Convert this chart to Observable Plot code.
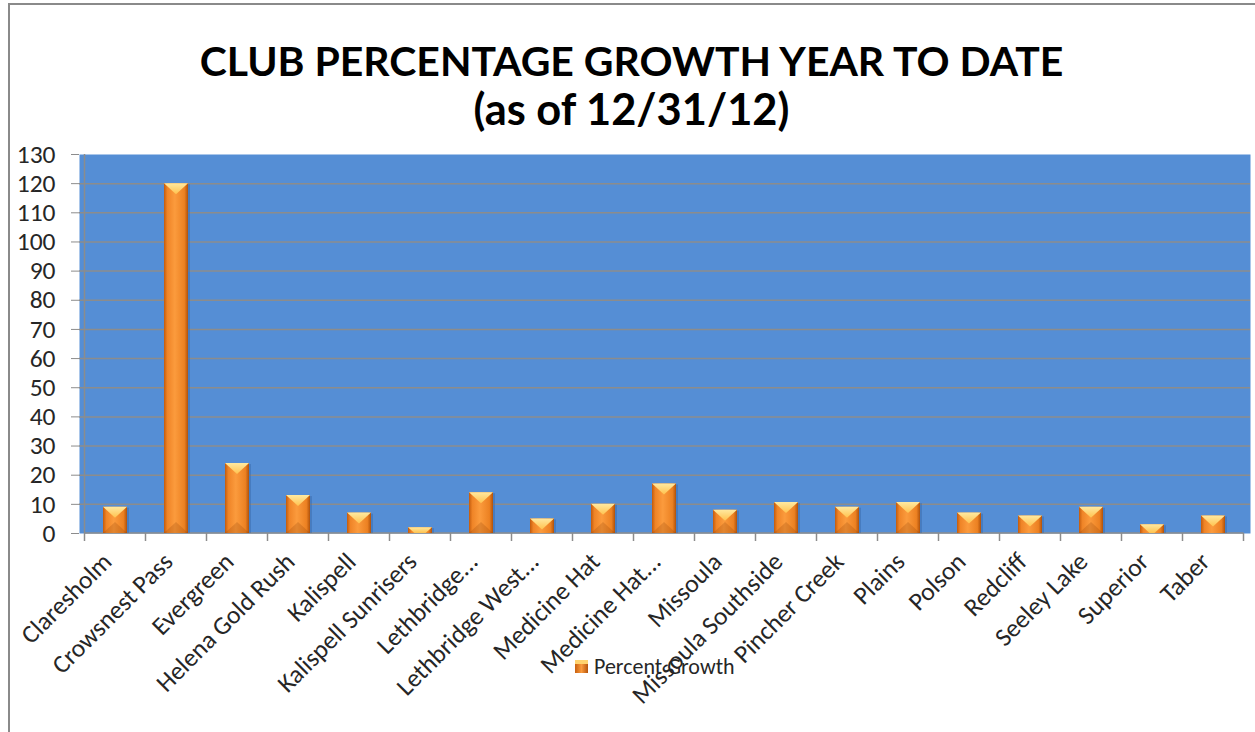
<!DOCTYPE html>
<html><head><meta charset="utf-8">
<script src="https://cdn.jsdelivr.net/npm/d3@7"></script>
<script src="https://cdn.jsdelivr.net/npm/@observablehq/plot@0.6"></script>
<style>
body{margin:0;background:#fff;width:1255px;height:732px;overflow:hidden;position:relative;font-family:Carlito, Lato, "Open Sans", sans-serif}
#frame{position:absolute;left:8px;top:3px;width:1260px;height:740px;border-top:2px solid #8a8a8a;border-left:2px solid #8a8a8a;box-sizing:border-box}
.tl{position:absolute;left:8px;width:1247px;text-align:center;font-weight:bold;color:#000;white-space:nowrap;line-height:1;font-family:"Liberation Sans Narrow","Arial Narrow",Lato,sans-serif}
.tl span{display:inline-block;line-height:1}
#t1{top:41px}
#t2{top:87px}
#chart{position:absolute;left:0;top:140px}
#chart svg text{font-size:25.5px !important}
#legend{position:absolute;left:575px;top:653px;font-size:22px;color:#262626;display:flex;align-items:center;gap:6px}
#legend .sw{width:13px;height:13px;background:linear-gradient(to right,#c8600f,#fa9a3c 50%,#b5540c);box-shadow:inset 0 4px 0 #ffd36e}
</style></head>
<body>
<svg width="0" height="0" style="position:absolute">
  <defs>
    <linearGradient id="barGrad" x1="0" y1="0" x2="1" y2="0">
      <stop offset="0" stop-color="#c25b0d"/>
      <stop offset="0.14" stop-color="#ef8427"/>
      <stop offset="0.45" stop-color="#fb9b3d"/>
      <stop offset="0.85" stop-color="#ec8122"/>
      <stop offset="1" stop-color="#b0520b"/>
    </linearGradient>
    <linearGradient id="bevelGrad" x1="0" y1="0" x2="0" y2="1">
      <stop offset="0" stop-color="#ffe9a0"/>
      <stop offset="1" stop-color="#ffc24e"/>
    </linearGradient>
  </defs>
</svg>
<div id="frame"></div>
<div class="tl" id="t1"><span>CLUB PERCENTAGE GROWTH YEAR TO DATE</span></div>
<div class="tl" id="t2"><span>(as of 12/31/12)</span></div>
<div id="chart"></div>
<div id="legend"><div class="sw"></div><span>Percent Growth</span></div>
<script>
const clubs = ["Claresholm","Crowsnest Pass","Evergreen","Helena Gold Rush","Kalispell","Kalispell Sunrisers","Lethbridge...","Lethbridge West...","Medicine Hat","Medicine Hat...","Missoula","Missoula Southside","Pincher Creek","Plains","Polson","Redcliff","Seeley Lake","Superior","Taber"];
const growth = [9, 120, 24, 13, 7, 2, 14, 5, 10, 17, 8, 10.6, 9, 10.6, 7, 6, 9, 3, 6];
const yTicks = d3.range(0, 131, 10);
const seriesName = "Percent Growth";

const data = clubs.map((c, i) => ({club: c, value: growth[i]}));

function fit(id, target, base, maxSize) {
  const el = document.querySelector("#" + id);
  const sp = el.querySelector("span");
  el.style.fontSize = base + "px";
  const w = sp.getBoundingClientRect().width;
  el.style.fontSize = Math.min(maxSize, base * target / w) + "px";
}
fit("t1", 864, 40, 46);
fit("t2", 316, 40, 46);

function bw(sx) { return typeof sx.bandwidth === "function" ? sx.bandwidth() : sx.bandwidth; }

const frameLines = (index, scales, values, dim) => {
  const g = d3.create("svg:g");
  const sx = scales.x, sy = scales.y;
  const b = bw(sx);
  const step = sx(clubs[1]) - sx(clubs[0]);
  const y0 = sy(0), yTop = sy(130);
  const left = sx(clubs[0]) - (step - b) / 2;
  const right = sx(clubs[clubs.length - 1]) + b + (step - b) / 2;
  g.append("line").attr("x1", left).attr("x2", left).attr("y1", yTop).attr("y2", y0)
    .attr("stroke", "#8c8c8c").attr("stroke-width", 1.5);
  g.append("line").attr("x1", left).attr("x2", right).attr("y1", y0).attr("y2", y0)
    .attr("stroke", "#8c8c8c").attr("stroke-width", 1.5);
  for (let i = 0; i <= clubs.length; i++) {
    const x = left + i * step;
    g.append("line").attr("x1", x).attr("x2", x).attr("y1", y0).attr("y2", y0 + 8)
      .attr("stroke", "#8c8c8c").attr("stroke-width", 1.5);
  }
  return g.node();
};

const bevel = (index, scales, values, dim) => {
  const g = d3.create("svg:g");
  const sx = scales.x, sy = scales.y;
  const b = bw(sx);
  const D = 11;
  for (const d of data) {
    const x0 = sx(d.club), x1 = x0 + b, xc = x0 + b / 2;
    const yt = sy(d.value), yb = sy(0);
    const hgt = yb - yt;
    const h = Math.min(D, hgt);
    const half = (b / 2) * (1 - h / D);
    const pts = [[x0, yt], [x1, yt], [xc + half, yt + h], [xc - half, yt + h]];
    g.append("polygon").attr("points", pts.map(p => p.join(",")).join(" "))
      .attr("fill", "url(#bevelGrad)");
    if (hgt > 2 * D) {
      const bp = [[x0, yb], [x1, yb], [xc, yb - D]];
      g.append("polygon").attr("points", bp.map(p => p.join(",")).join(" "))
        .attr("fill", "#8a3d05").attr("fill-opacity", 0.22);
    }
    g.append("rect").attr("x", x1).attr("y", yt + 1).attr("width", 2).attr("height", Math.max(0, hgt - 1))
      .attr("fill", "#2f5d9a").attr("fill-opacity", 0.35);
  }
  return g.node();
};

const plot = Plot.plot({
  width: 1255,
  height: 590,
  marginLeft: 79,
  marginRight: 5,
  marginTop: 14,
  marginBottom: 197,
  style: {fontFamily: "Carlito, Lato, 'Open Sans', sans-serif", fontSize: "25.5px", color: "#262626", background: "transparent", overflow: "visible"},
  x: {domain: clubs, paddingInner: 0.6, paddingOuter: 0.3, label: null, axis: null},
  y: {domain: [0, 130], label: null, axis: null},
  marks: [
    Plot.frame({fill: "#558ed5", stroke: null}),
    Plot.gridY(yTicks.filter(t => t > 0 && t < 130), {stroke: "#8c8c8c", strokeOpacity: 1, strokeWidth: 1.5}),
    frameLines,
    Plot.barY(data, {x: "club", y: "value", fill: "url(#barGrad)"}),
    bevel,
    Plot.axisY(yTicks, {tickSize: 8, tickPadding: 16, stroke: "#8c8c8c", fill: "#262626", fontSize: 25.5, label: null}),
    Plot.axisX({tickRotate: -45, tickSize: 0, tickPadding: 24, dx: -8, fill: "#262626", fontSize: 25.5, label: null})
  ]
});
document.querySelector("#chart").append(plot);
</script>
</body></html>
